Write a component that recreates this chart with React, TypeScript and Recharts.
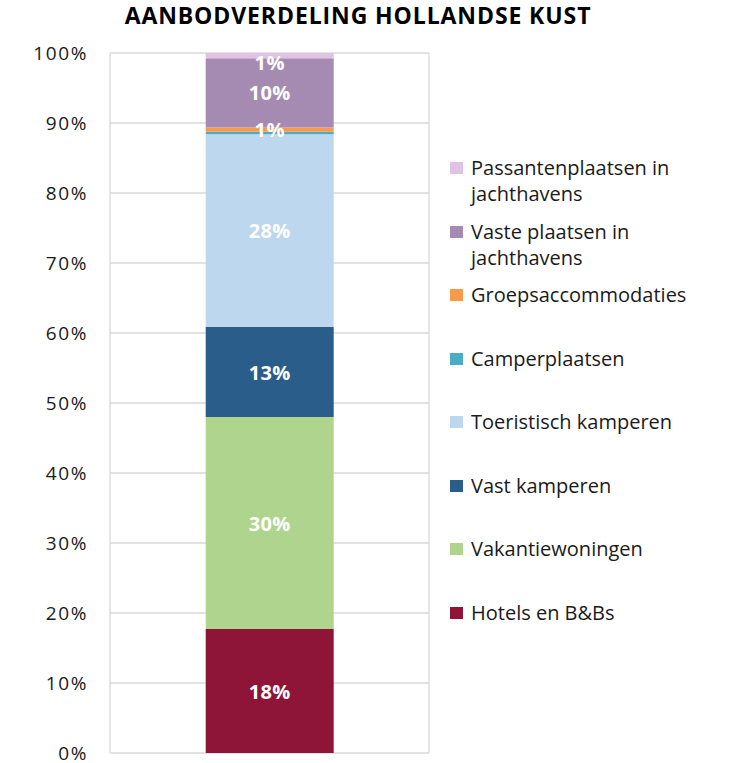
import React from 'react';
import { BarChart, Bar, XAxis, YAxis, CartesianGrid, LabelList } from 'recharts';

const categories = ['Hollandse Kust'];
const seriesNames = [
  'Hotels en B&Bs',
  'Vakantiewoningen',
  'Vast kamperen',
  'Toeristisch kamperen',
  'Camperplaatsen',
  'Groepsaccommodaties',
  'Vaste plaatsen in jachthavens',
  'Passantenplaatsen in jachthavens',
];
const legendLines = [
  ['Hotels en B&Bs'],
  ['Vakantiewoningen'],
  ['Vast kamperen'],
  ['Toeristisch kamperen'],
  ['Camperplaatsen'],
  ['Groepsaccommodaties'],
  ['Vaste plaatsen in', 'jachthavens'],
  ['Passantenplaatsen in', 'jachthavens'],
];
const seriesValues = [17.7, 30.3, 12.85, 27.55, 0.35, 0.6, 9.9, 0.75];
const seriesColors = ['#8E1538', '#AED48E', '#2B5D8A', '#BDD7EE', '#4BACC6', '#F79A4A', '#A58BB1', '#E0C3E3'];
const yTicks = [0, 10, 20, 30, 40, 50, 60, 70, 80, 90, 100];
const title = 'AANBODVERDELING HOLLANDSE KUST';

const keys = seriesNames.map((_, i) => `s${i}`);
const data = categories.map((c) => {
  const row: Record<string, string | number> = { name: c };
  keys.forEach((k, i) => {
    row[k] = seriesValues[i];
  });
  return row;
});

const FONT = '"Open Sans", sans-serif';
const MARGIN = { top: 53, right: 309, left: 0, bottom: 10 };
const LABEL_SIZE = 20;

const renderLabel = (props: any) => {
  const { x, y, width, height, value } = props;
  const v = Math.round(Number(value));
  if (v < 1) return null;
  // keep the label inside the plot area, as the original does for the thin top segment
  const cy = Math.max(Number(y) + Number(height) / 2, MARGIN.top + LABEL_SIZE / 2 - 1);
  return (
    <text
      x={Number(x) + Number(width) / 2}
      y={cy}
      textAnchor="middle"
      dominantBaseline="central"
      fill="#FFFFFF"
      fontFamily={FONT}
      fontWeight={700}
      fontSize={LABEL_SIZE}
      letterSpacing={0.4}
    >
      {`${v}%`}
    </text>
  );
};

const LegendBox = () => {
  const order = seriesNames.map((_, i) => i).reverse();
  return (
    <div style={{ position: 'absolute', left: 450, top: 155, width: 288, height: 520, fontFamily: FONT }}>
      {order.map((idx, j) => (
        <div
          key={idx}
          style={{ position: 'absolute', left: 0, top: j * 63.5, display: 'flex', alignItems: 'flex-start' }}
        >
          <div style={{ width: 13, height: 12, background: seriesColors[idx], marginTop: 7, marginRight: 8 }} />
          <div style={{ fontSize: 20, lineHeight: '26px', color: '#1a1a1a', whiteSpace: 'nowrap' }}>
            {legendLines[idx].map((l, k) => (
              <div key={k}>{l}</div>
            ))}
          </div>
        </div>
      ))}
    </div>
  );
};

export default function App() {
  return (
    <div style={{ position: 'absolute', left: 0, top: 0, width: 738, height: 763, background: '#fff', overflow: 'hidden' }}>
      <div
        style={{
          position: 'absolute',
          left: 0,
          width: 716,
          top: 1,
          textAlign: 'center',
          fontFamily: FONT,
          fontWeight: 700,
          fontSize: 23,
          letterSpacing: 0.9,
          color: '#000',
          lineHeight: '28px',
        }}
      >
        {title}
      </div>
      <BarChart
        width={738}
        height={763}
        data={data}
        margin={MARGIN}
        barCategoryGap="30%"
        style={{ position: 'absolute', left: 0, top: 0 }}
      >
        <CartesianGrid
          stroke="#D9D9D9"
          strokeWidth={1.3}
          vertical={true}
          verticalCoordinatesGenerator={(p: any) => [p.offset.left, p.offset.left + p.offset.width]}
        />
        <XAxis dataKey="name" hide />
        <YAxis
          domain={[0, 100]}
          ticks={yTicks}
          interval={0}
          width={110}
          axisLine={false}
          tickLine={false}
          tickSize={0}
          tickMargin={22}
          tickFormatter={(v: number) => `${v}%`}
          tick={{ fill: '#1a1a1a', fontSize: 19, fontFamily: FONT, letterSpacing: 1.6 }}
        />
        {keys.map((k, i) => (
          <Bar
            key={k}
            dataKey={k}
            name={seriesNames[i]}
            stackId="a"
            fill={seriesColors[i]}
            isAnimationActive={false}
          >
            <LabelList dataKey={k} content={renderLabel} />
          </Bar>
        ))}
      </BarChart>
      <LegendBox />
    </div>
  );
}
